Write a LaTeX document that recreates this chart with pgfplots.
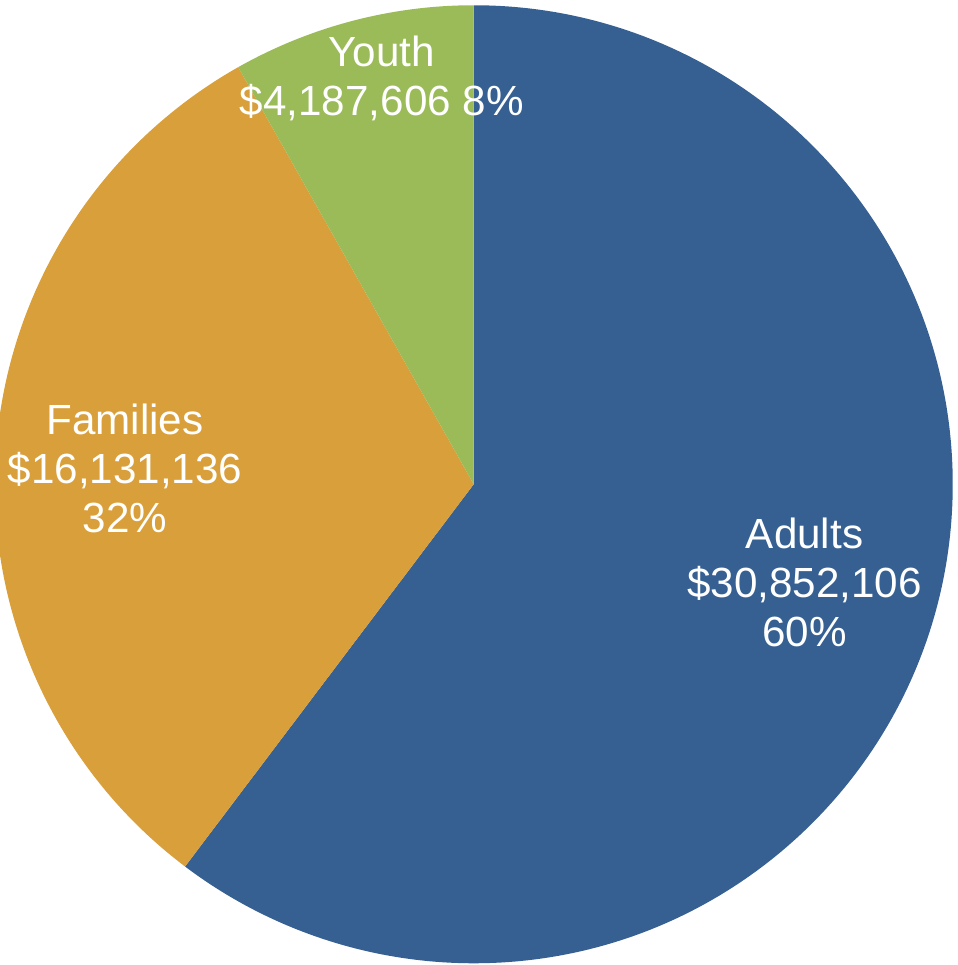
\documentclass[border=0pt]{standalone}
\usepackage{pgfplots}
\usepackage{pgfplotstable}
\pgfplotsset{compat=1.18}
\usepackage{fontspec}
\setmainfont{Liberation Sans}
\definecolor{cAdults}{HTML}{366092}
\definecolor{cFamilies}{HTML}{D99F3A}
\definecolor{cYouth}{HTML}{9BBB59}
\pgfplotstableread{
label value
Adults 30852106
Families 16131136
Youth 4187606
}\pietable
\pgfplotstablegetelem{0}{value}\of\pietable \let\va\pgfplotsretval
\pgfplotstablegetelem{1}{value}\of\pietable \let\vb\pgfplotsretval
\pgfplotstablegetelem{2}{value}\of\pietable \let\vc\pgfplotsretval
\pgfkeys{/pgf/fpu=true,/pgf/fpu/output format=fixed}
\pgfmathsetmacro\aA{360*\va/(\va+\vb+\vc)}
\pgfmathsetmacro\aB{360*\vb/(\va+\vb+\vc)}
\pgfkeys{/pgf/fpu=false}
\pgfmathsetmacro\eA{90-\aA}
\pgfmathsetmacro\eB{90-\aA-\aB}
\begin{document}
\begin{tikzpicture}
\begin{axis}[
  at={(0,0)}, anchor=south west,
  x=0.01cm, y=0.01cm,
  xmin=0, xmax=957, ymin=0, ymax=965,
  hide axis, clip=true,
]
\addplot[draw=none] coordinates {(474,481)};
\fill[cAdults] (axis cs:474,481) -- ++(90:4.79cm) arc[start angle=90, end angle=\eA, radius=4.79cm] -- cycle;
\fill[cFamilies] (axis cs:474,481) -- ++(\eA:4.79cm) arc[start angle=\eA, end angle=\eB, radius=4.79cm] -- cycle;
\fill[cYouth] (axis cs:474,481) -- ++(\eB:4.79cm) arc[start angle=\eB, end angle=-270, radius=4.79cm] -- cycle;
\node[white, align=center, font=\fontsize{12}{14}\selectfont, inner sep=0pt] at (axis cs:805,383) {Adults\\\$30,852,106\\60\%};
\node[white, align=center, font=\fontsize{12}{14}\selectfont, inner sep=0pt] at (axis cs:125,497) {Families\\\$16,131,136\\32\%};
\node[white, align=center, font=\fontsize{12}{14}\selectfont, inner sep=0pt] at (axis cs:382,887) {Youth\\\$4,187,606 8\%};
\end{axis}
\pgfresetboundingbox
\path[use as bounding box] (0,0) rectangle (9.57cm,9.65cm);
\end{tikzpicture}
\end{document}
